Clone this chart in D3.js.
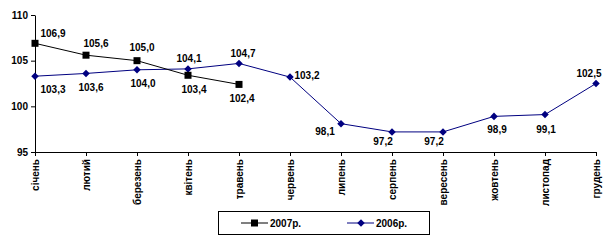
<!DOCTYPE html>
<html>
<head>
<meta charset="utf-8">
<script src="https://cdn.jsdelivr.net/npm/d3@7"></script>
<style>
body { margin: 0; background: #fff; }
svg text { font-family: "Liberation Sans", Arial, sans-serif; font-weight: bold; font-size: 10px; fill: #000; }
</style>
</head>
<body>
<script>
//chart data
var months = ["січень","лютий","березень","квітень","травень","червень",
              "липень","серпень","вересень","жовтень","листопад","грудень"];
var values2007 = [106.9, 105.6, 105.0, 103.4, 102.4];
var values2006 = [103.3, 103.6, 104.0, 104.1, 104.7, 103.2, 98.1, 97.2, 97.2, 98.9, 99.1, 102.5];
var yTicks = [95, 100, 105, 110];
var seriesNames = ["2007р.", "2006р."];

//label offsets from each point (placement only)
var off2007 = [[18,-10],[10,-12],[5,-13],[6,14],[3,14]];
var off2006 = [[18,13],[5,14],[6,14],[1,-10],[4,-10],[17,-2],[-16,8],[-9,10],[-9,10],[3,13],[1,15],[-7,-10]];

var width = 612, height = 246;
var svg = d3.select("body").append("svg")
    .attr("width", width)
    .attr("height", height);

var x = d3.scalePoint()
    .domain(months)
    .range([35, 596]);

var y = d3.scaleLinear()
    .domain([95, 110])
    .range([152, 15]);

//y axis
var yAxis = svg.append("g")
    .attr("transform", "translate(35,0)")
    .call(d3.axisLeft(y).tickValues(yTicks).tickSize(4).tickSizeOuter(0).tickPadding(3));
yAxis.select(".domain").attr("stroke", "#000");
yAxis.selectAll("text").style("font-size", "10px").style("font-family", null);

//x axis
var xAxis = svg.append("g")
    .attr("transform", "translate(0,152)")
    .call(d3.axisBottom(x).tickSize(4).tickSizeOuter(0));
xAxis.selectAll("text")
    .style("font-family", null)
    .style("font-size", "10px")
    .attr("transform", "rotate(-90)")
    .attr("text-anchor", "end")
    .attr("x", -7)
    .attr("y", 0)
    .attr("dy", "0.35em");

var line = d3.line()
    .x(function(d, i){ return x(months[i]); })
    .y(function(d){ return y(d); });

//2006 series
svg.append("path")
    .datum(values2006)
    .attr("fill", "none")
    .attr("stroke", "#000080")
    .attr("stroke-width", 1)
    .attr("d", line);

var diamond = d3.symbol().type(d3.symbolDiamond2).size(36);
svg.selectAll(".m2006")
    .data(values2006)
    .enter()
    .append("path")
    .attr("class", "m2006")
    .attr("d", diamond)
    .attr("fill", "#000080")
    .attr("transform", function(d, i){ return "translate(" + x(months[i]) + "," + y(d) + ")"; });

//2007 series
svg.append("path")
    .datum(values2007)
    .attr("fill", "none")
    .attr("stroke", "#000")
    .attr("stroke-width", 1)
    .attr("d", line);

svg.selectAll(".m2007")
    .data(values2007)
    .enter()
    .append("rect")
    .attr("class", "m2007")
    .attr("x", function(d, i){ return x(months[i]) - 3.5; })
    .attr("y", function(d){ return y(d) - 3.5; })
    .attr("width", 7)
    .attr("height", 7)
    .attr("fill", "#000");

function fmt(v){ return v.toFixed(1).replace(".", ","); }

svg.selectAll(".l2007")
    .data(values2007)
    .enter()
    .append("text")
    .attr("text-anchor", "middle")
    .attr("dy", "0.35em")
    .attr("x", function(d, i){ return x(months[i]) + off2007[i][0]; })
    .attr("y", function(d, i){ return y(d) + off2007[i][1]; })
    .text(fmt);

svg.selectAll(".l2006")
    .data(values2006)
    .enter()
    .append("text")
    .attr("text-anchor", "middle")
    .attr("dy", "0.35em")
    .attr("x", function(d, i){ return x(months[i]) + off2006[i][0]; })
    .attr("y", function(d, i){ return y(d) + off2006[i][1]; })
    .text(fmt);

//legend
var legend = svg.append("g");
legend.append("rect")
    .attr("x", 218.5).attr("y", 211.5)
    .attr("width", 211).attr("height", 23)
    .attr("fill", "#fff").attr("stroke", "#000");

var legendItems = [
    {name: seriesNames[0], color: "#000", x: 241, shape: "square"},
    {name: seriesNames[1], color: "#000080", x: 347, shape: "diamond"}
];
legendItems.forEach(function(it){
    legend.append("line")
        .attr("x1", it.x).attr("x2", it.x + 27)
        .attr("y1", 223).attr("y2", 223)
        .attr("stroke", it.color);
    if (it.shape == "square"){
        legend.append("rect")
            .attr("x", it.x + 10).attr("y", 219.5)
            .attr("width", 7).attr("height", 7)
            .attr("fill", it.color);
    } else {
        legend.append("path")
            .attr("d", diamond)
            .attr("fill", it.color)
            .attr("transform", "translate(" + (it.x + 14) + ",223)");
    }
    legend.append("text")
        .attr("x", it.x + 29)
        .attr("y", 223)
        .attr("dy", "0.35em")
        .text(it.name);
});
</script>
</body>
</html>
